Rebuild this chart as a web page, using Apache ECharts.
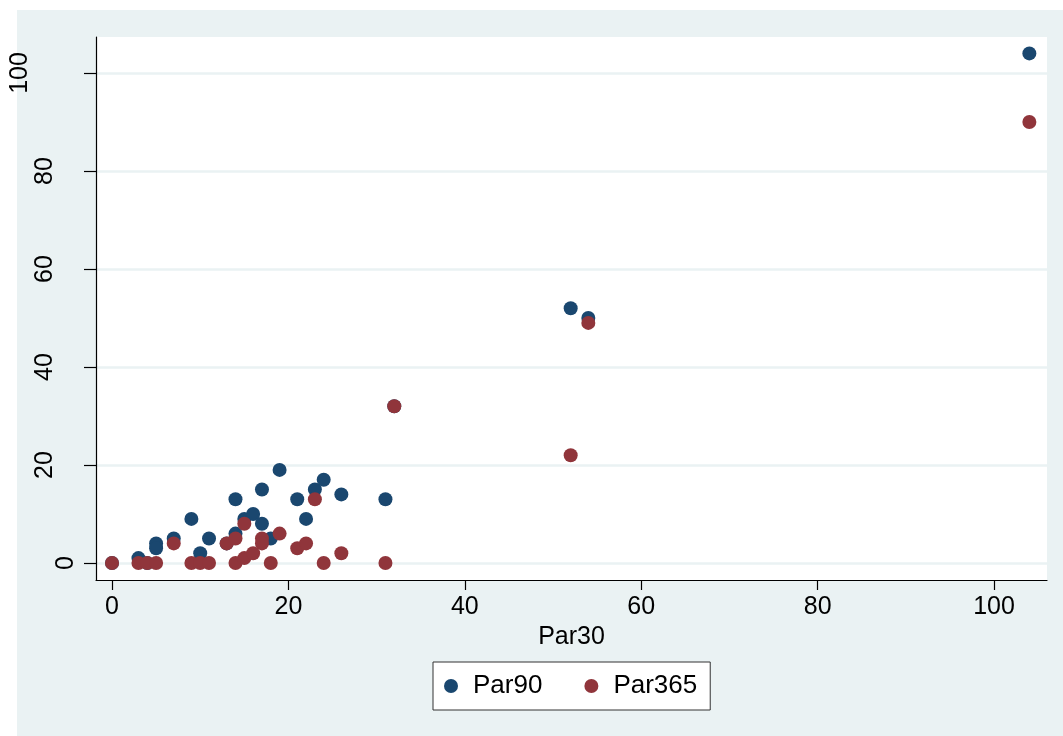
<!DOCTYPE html>
<html><head><meta charset="utf-8">
<script src="https://cdn.jsdelivr.net/npm/echarts@6/dist/echarts.min.js"></script>
<style>html,body{margin:0;padding:0;background:#fff}#c{width:1063px;height:736px}</style>
</head><body><div id="c"></div>
<script>
const xTicks = [0, 20, 40, 60, 80, 100];
const yTicks = [0, 20, 40, 60, 80, 100];
// Par30 (x) and Par90 (y)
const par90X = [0, 3, 4, 5, 5, 7, 9, 10, 11, 13, 14, 14, 15, 16, 17, 17, 18, 19, 21, 22, 23, 24, 26, 31, 32, 52, 54, 104];
const par90Y = [0, 1, 0, 4, 3, 5, 9, 2, 5, 4, 13, 6, 9, 10, 15, 8, 5, 19, 13, 9, 15, 17, 14, 13, 32, 52, 50, 104];
// Par30 (x) and Par365 (y)
const par365X = [0, 3, 4, 5, 7, 9, 10, 11, 13, 14, 14, 15, 15, 16, 17, 17, 18, 19, 21, 22, 23, 24, 26, 31, 32, 52, 54, 104];
const par365Y = [0, 0, 0, 0, 4, 0, 0, 0, 4, 5, 0, 8, 1, 2, 5, 4, 0, 6, 3, 4, 13, 0, 2, 0, 32, 22, 49, 90];

const zip = (a, b) => a.map((v, i) => [v, b[i]]);
const font = 'Liberation Sans, Arial, sans-serif';
const chart = echarts.init(document.getElementById('c'));
chart.setOption({
  backgroundColor: '#ffffff',
  animation: false,
  graphic: [
    {type: 'rect', shape: {x: 17, y: 10, width: 1046, height: 726}, style: {fill: '#eaf2f3'}, z: -10, silent: true},
    {type: 'rect', shape: {x: 96, y: 37, width: 951, height: 543}, style: {fill: '#ffffff'}, z: -9, silent: true}
  ],
  grid: {left: 96, top: 37, right: 16, bottom: 156, containLabel: false},
  xAxis: {
    type: 'value', min: -1.814, max: 106.0,
    name: 'Par30', nameLocation: 'middle', nameGap: 41,
    nameTextStyle: {fontFamily: font, fontSize: 25, color: '#000'},
    axisLine: {show: true, onZero: false, lineStyle: {color: '#000', width: 1.2}},
    axisTick: {show: true, length: 10, customValues: xTicks, lineStyle: {color: '#000', width: 1.2}},
    axisLabel: {customValues: xTicks, fontFamily: font, fontSize: 25, color: '#000', margin: 15},
    splitLine: {show: false}
  },
  yAxis: {
    type: 'value', min: -3.47, max: 107.35,
    axisLine: {show: true, onZero: false, lineStyle: {color: '#000', width: 1.2}},
    axisTick: {show: true, length: 12, customValues: yTicks, lineStyle: {color: '#000', width: 1.2}},
    axisLabel: {
      customValues: yTicks, rotate: 90, fontFamily: font, fontSize: 25, color: '#000', margin: 17,
      formatter: v => { const s = String(v); return '{p' + s.length + '|' + s + '}'; },
      rich: {
        p1: {fontFamily: font, fontSize: 25, color: '#000', padding: [0, 0, 0, 0]},
        p2: {fontFamily: font, fontSize: 25, color: '#000', padding: [0, 0, 21, 0]},
        p3: {fontFamily: font, fontSize: 25, color: '#000', padding: [0, 0, 46, 0]}
      }
    },
    splitLine: {show: true, lineStyle: {color: '#eaf2f3', width: 2.5}}
  },
  legend: {
    left: 433, top: 662, orient: 'horizontal',
    backgroundColor: '#ffffff', borderColor: '#333', borderWidth: 1,
    padding: [11, 13, 11, 11], itemGap: 42, itemWidth: 14, itemHeight: 14,
    textStyle: {fontFamily: font, fontSize: 26, lineHeight: 26, color: '#000', padding: [0, 0, 0, 10]},
    data: [{name: 'Par90', icon: 'circle'}, {name: 'Par365', icon: 'circle'}]
  },
  series: [
    {name: 'Par90', type: 'scatter', symbol: 'circle', symbolSize: 14, data: zip(par90X, par90Y),
     itemStyle: {color: '#1a476f', opacity: 1}},
    {name: 'Par365', type: 'scatter', symbol: 'circle', symbolSize: 14, data: zip(par365X, par365Y),
     itemStyle: {color: '#90353b', opacity: 1}}
  ]
});
</script></body></html>
